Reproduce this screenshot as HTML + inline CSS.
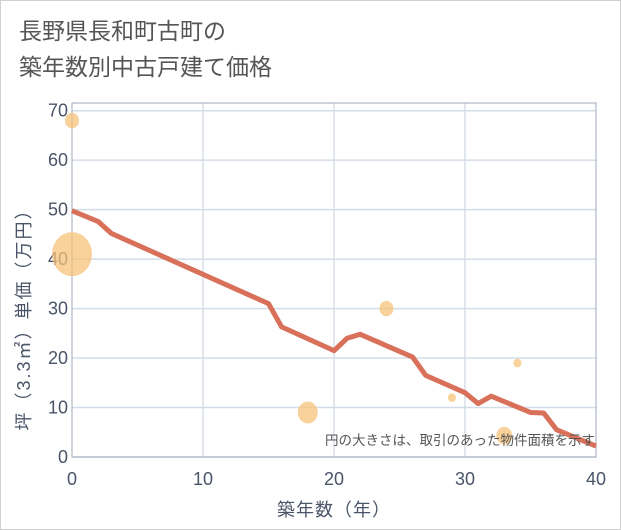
<!DOCTYPE html>
<html><head><meta charset="utf-8"><style>
body{margin:0;background:#fff;}
#wrap{position:relative;width:619px;height:528px;border:1px solid #d0d0d0;background:#fff;font-family:"Liberation Sans","Noto Sans CJK JP",sans-serif;}
.title{position:absolute;left:18px;top:12px;font-size:23px;line-height:36px;color:#555;}
</style></head><body>
<div id="wrap">
<div class="title">長野県長和町古町の<br>築年数別中古戸建て価格</div>
<svg id="chart" width="621" height="530" style="position:absolute;left:-1px;top:-1px"></svg>
</div>
<script>
const xTicks=[0,10,20,30,40];
const yTicks=[0,10,20,30,40,50,60,70];
const lineX=[0,2,3,15,16,20,21,22,26,27,30,31,32,35,36,37,40];
const lineY=[49.8,47.6,45.2,31,26.3,21.5,24,24.8,20.2,16.5,13,10.8,12.3,9,8.9,5.5,2.2];
const bubX=[0,0,18,24,29,34,33];
const bubY=[68,41,9,30,12,19,4.3];
const bubR=[7,20,10,7,4,4,8];
const NS='http://www.w3.org/2000/svg';
const svg=document.getElementById('chart');
const L=72,R=596,T=103,B=457;
const xs=v=>L+(v-0)/40*(R-L);
const ys=v=>B-v/70*(B-110.7);
function mk(t,a,p){const e=document.createElementNS(NS,t);for(const k in a)e.setAttribute(k,a[k]);(p||svg).appendChild(e);return e;}
xTicks.forEach(v=>{
 const g=mk('line',{x1:xs(v),x2:xs(v),y1:T,y2:B,stroke:'#c5cfdc','stroke-width':1});
 
 
 const t=mk('text',{x:xs(v),y:B+28,'text-anchor':'middle','font-size':18,fill:'#4a5568'});
 t.textContent=v;
 
 
});
yTicks.forEach(v=>{
 const g=mk('line',{x1:L,x2:R,y1:ys(v),y2:ys(v),stroke:'#d3dde8','stroke-width':1.5});
 
 
 const t=mk('text',{x:L-4,y:ys(v)+6,'text-anchor':'end','font-size':18,fill:'#4a5568'});
 t.textContent=v;
 
 
});
const fr=mk('rect',{x:L,y:T,width:R-L,height:B-T,fill:'none',stroke:'#a0aab8','stroke-width':1});


bubX.forEach((v,i)=>{
 const c=mk('ellipse',{cx:xs(v),cy:ys(bubY[i]),rx:bubR[i],ry:bubR[i]*1.1,fill:'#f5c27a','fill-opacity':0.75});
 
 
});
const pl=mk('polyline',{points:lineX.map((v,i)=>xs(v)+','+ys(lineY[i])).join(' '),fill:'none',stroke:'#d8705a','stroke-width':5,'stroke-linejoin':'round'});


const note=mk('text',{x:595,y:445,'text-anchor':'end','font-size':13.5,fill:'#555'});
note.textContent='円の大きさは、取引のあった物件面積を示す';


const xt=mk('text',{x:(L+R)/2,y:516,'text-anchor':'middle','font-size':18,fill:'#4a5568','letter-spacing':1});
xt.textContent='築年数（年）';


const yt=mk('text',{x:0,y:0,'text-anchor':'middle','font-size':18,fill:'#4a5568','letter-spacing':2,transform:'translate(30,'+((T+B)/2+35)+') rotate(-90)'});
yt.textContent='坪（3.3㎡）単価（万円）';


</script>
</body></html>
